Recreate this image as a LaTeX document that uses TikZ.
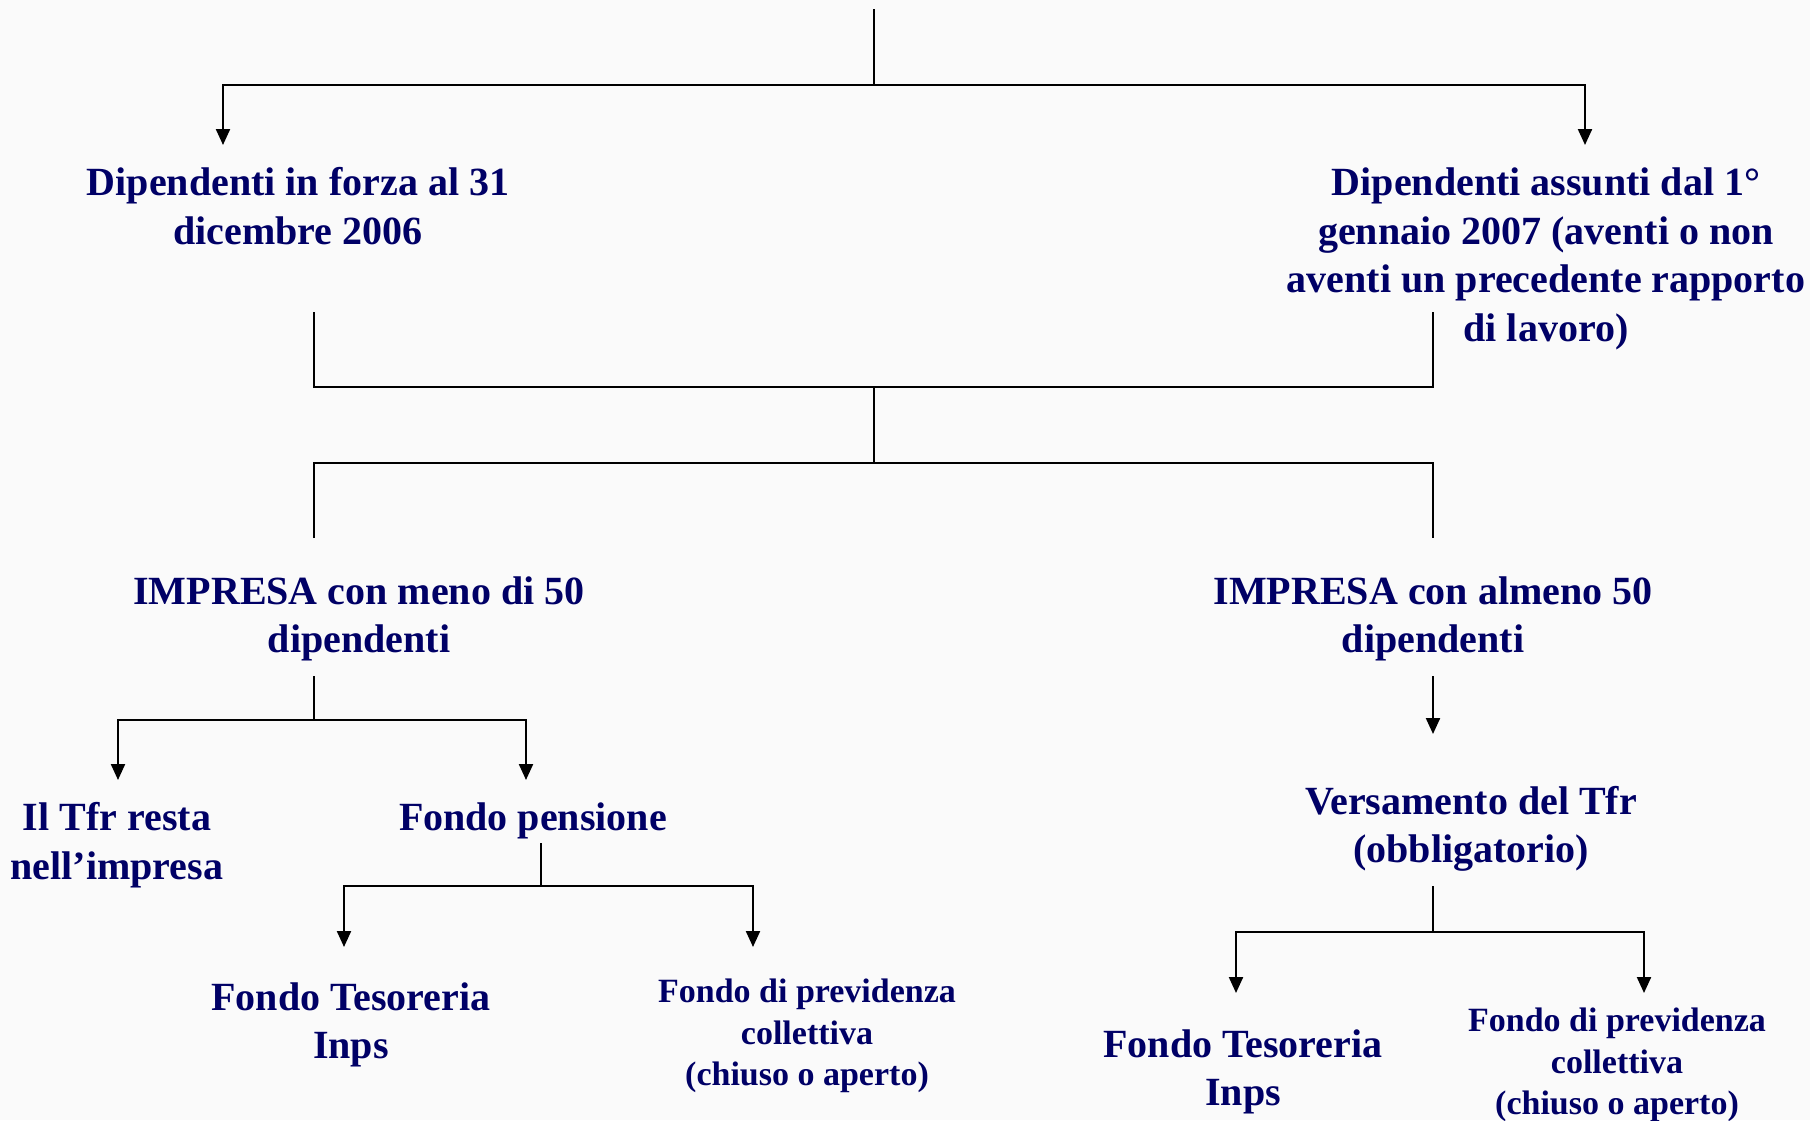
\documentclass[tikz,border=0pt]{standalone}
\usepackage{fontspec}
\setmainfont{Liberation Serif}
\usetikzlibrary{arrows.meta}
\definecolor{navytext}{RGB}{0,0,102}
\definecolor{bgcol}{RGB}{250,250,250}
\begin{document}
\begin{tikzpicture}[x=1pt,y=-1pt,
  lbl/.style={align=center, text=navytext, inner sep=0pt, font=\fontsize{40}{48.5}\selectfont\bfseries},
  lbls/.style={lbl, font=\fontsize{34}{41.5}\selectfont\bfseries},
  wire/.style={line width=2.2pt, draw=black},
  arr/.style={wire, -{Triangle[length=16pt,width=14pt]}}]
\fill[bgcol] (0,0) rectangle (1810,1120);
\useasboundingbox (0,0) rectangle (1810,1120);

% top split
\coordinate (top) at (874,9);
\coordinate (s1) at (874,85);
\coordinate (a1) at (223,145);
\coordinate (a2) at (1585,145);
\draw[wire] (top) -- (s1);
\draw[arr] (s1) -| (a1);
\draw[arr] (s1) -| (a2);

\node[lbl] (d06) at (298,206) {Dipendenti in forza al 31\\dicembre 2006};
\node[lbl] (d07) at (1546,259) {Dipendenti assunti dal 1°\\gennaio 2007 (aventi o non\\aventi un precedente rapporto\\di lavoro)};

% merge and split
\coordinate (m1) at (314,312);
\coordinate (m2) at (1433,312);
\coordinate (m3) at (874,387);
\coordinate (m4) at (874,463);
\coordinate (b1) at (314,538);
\coordinate (b2) at (1433,538);
\draw[wire] (m1) |- (m3) -| (m2);
\draw[wire] (m3) -- (m4);
\draw[wire] (b1) |- (m4) -| (b2);

\node[lbl] (imp1) at (359,619) {IMPRESA con meno di 50\\dipendenti};
\node[lbl] (imp2) at (1433,619) {IMPRESA con almeno 50\\dipendenti};

% left subtree
\coordinate (c1) at (314,676);
\coordinate (c2) at (314,720);
\coordinate (t1) at (118,780);
\coordinate (t2) at (526,780);
\draw[wire] (c1) -- (c2);
\draw[arr] (c2) -| (t1);
\draw[arr] (c2) -| (t2);

\node[lbl] (tfr) at (117,845) {Il Tfr resta\\nell’impresa};
\node[lbl] (fp) at (533,821) {Fondo pensione};

\coordinate (e1) at (541,843);
\coordinate (e2) at (541,886);
\coordinate (u1) at (344,947);
\coordinate (u2) at (753,947);
\draw[wire] (e1) -- (e2);
\draw[arr] (e2) -| (u1);
\draw[arr] (e2) -| (u2);

\node[lbl] (ft1) at (351,1025) {Fondo Tesoreria\\Inps};
\node[lbls] (fc1) at (807,1036) {Fondo di previdenza\\collettiva\\(chiuso o aperto)};

% right subtree
\coordinate (r1) at (1433,676);
\coordinate (r2) at (1433,734);
\draw[arr] (r1) -- (r2);

\node[lbl] (vt) at (1471,829) {Versamento del Tfr\\(obbligatorio)};

\coordinate (g1) at (1433,886);
\coordinate (g2) at (1433,932);
\coordinate (v1) at (1236,993);
\coordinate (v2) at (1644,993);
\draw[wire] (g1) -- (g2);
\draw[arr] (g2) -| (v1);
\draw[arr] (g2) -| (v2);

\node[lbl] (ft2) at (1243,1072) {Fondo Tesoreria\\Inps};
\node[lbls] (fc2) at (1617,1065) {Fondo di previdenza\\collettiva\\(chiuso o aperto)};
\end{tikzpicture}
\end{document}
